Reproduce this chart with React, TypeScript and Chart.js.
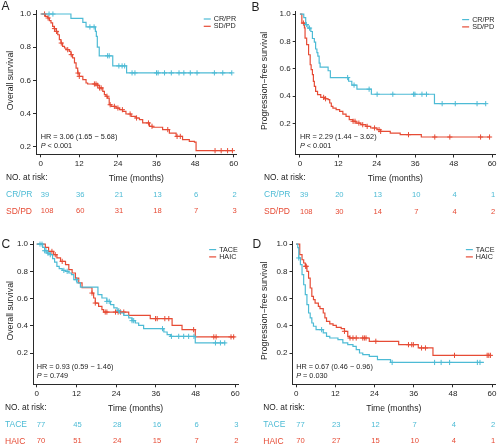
import React, { useEffect, useRef } from "react";
import { Chart, registerables } from "chart.js";

Chart.register(...registerables);

const BLUE = "#4DBBD5";
const RED = "#E64B35";
const TEXT = "#1e1e1e";
const AXIS = "#2a2a2a";
const FONT = "Liberation Sans, Arial, Helvetica, sans-serif";

const xTicks = [0, 12, 24, 36, 48, 60];
const yTicks = [0.2, 0.4, 0.6, 0.8, 1.0];

// ---------- Panel A : OS by response ----------
const aCrprTimes = [0, 9.4, 13.1, 14.1, 17.0, 17.3, 17.6, 18.2, 22.4, 26.7];
const aCrprSurv = [1, 0.974, 0.95, 0.922, 0.895, 0.865, 0.8, 0.748, 0.687, 0.645];
const aCrprEnd = 59.4;
const aCrprCensor = [2.6, 3.8, 15.3, 16.6, 20.8, 21.3, 24.3, 25.3, 26.1, 28.4, 29.3, 36.0, 36.5, 38.5, 40.6, 43.0, 44.5, 46.5, 48.6, 54.0, 56.6, 59.4];

const aSdpdTimes = [0, 1.45, 2.2, 2.7, 3.2, 3.7, 4.2, 4.8, 5.3, 5.8, 6.3, 6.8, 7.4, 7.9, 8.9, 9.4, 9.9, 10.5, 11.0, 11.5, 12.0, 13.1, 14.1, 14.6, 17.7, 18.2, 19.3, 19.8, 20.3, 20.8, 21.3, 21.9, 23.4, 24.5, 25.5, 26.5, 28.1, 29.6, 30.7, 31.7, 33.8, 34.8, 37.9, 40.0, 42.1, 44.1, 46.2, 47.8, 48.3];
const aSdpdSurv = [1, 0.986, 0.976, 0.96, 0.946, 0.926, 0.912, 0.895, 0.875, 0.845, 0.825, 0.805, 0.795, 0.785, 0.775, 0.755, 0.735, 0.705, 0.674, 0.644, 0.624, 0.604, 0.584, 0.578, 0.57, 0.554, 0.534, 0.514, 0.504, 0.493, 0.453, 0.443, 0.433, 0.423, 0.413, 0.397, 0.383, 0.373, 0.363, 0.343, 0.323, 0.317, 0.303, 0.282, 0.262, 0.242, 0.232, 0.228, 0.176];
const aSdpdEnd = 59.6;
const aSdpdCensor = [1.2, 2.3, 4.3, 4.9, 6.4, 8.4, 9.5, 11.6, 12.0, 16.7, 17.2, 17.7, 18.3, 18.8, 20.6, 21.6, 22.9, 24.0, 25.4, 27.8, 29.8, 33.5, 34.6, 39.5, 42.4, 43.4, 54.2, 56.1, 58.1, 59.6];

const aRiskCrpr = [39, 36, 21, 13, 6, 2];
const aRiskSdpd = [108, 60, 31, 18, 7, 3];

// ---------- Panel B : PFS by response ----------
const bCrprTimes = [0, 1.2, 1.8, 2.5, 3.4, 3.9, 4.5, 4.9, 5.3, 5.6, 6.0, 6.3, 8.8, 9.5, 15.2, 16.2, 17.8, 22.3, 42.0];
const bCrprSurv = [1, 0.974, 0.923, 0.897, 0.872, 0.821, 0.795, 0.744, 0.718, 0.692, 0.641, 0.612, 0.585, 0.535, 0.508, 0.48, 0.45, 0.413, 0.344];
const bCrprEnd = 58.0;
const bCrprCensor = [2.0, 3.0, 14.9, 16.9, 21.6, 24.1, 29.0, 35.5, 35.9, 38.1, 39.5, 44.4, 48.5, 55.3, 58.0];

const bSdpdTimes = [0, 0.6, 1.4, 1.6, 2.1, 2.7, 3.2, 3.5, 3.9, 4.2, 4.5, 4.9, 5.5, 6.5, 7.8, 8.8, 9.3, 9.8, 10.3, 11.3, 12.4, 13.4, 14.4, 15.4, 16.5, 17.5, 19.0, 20.6, 22.1, 24.1, 25.2, 28.2, 31.3, 37.9];
const bSdpdSurv = [1, 0.934, 0.898, 0.824, 0.776, 0.702, 0.629, 0.593, 0.556, 0.507, 0.471, 0.434, 0.41, 0.39, 0.38, 0.373, 0.349, 0.324, 0.312, 0.3, 0.288, 0.268, 0.251, 0.227, 0.215, 0.202, 0.19, 0.178, 0.166, 0.154, 0.141, 0.129, 0.117, 0.1];
const bSdpdEnd = 59.4;
const bSdpdCensor = [1.1, 7.4, 8.0, 16.6, 17.2, 18.4, 19.6, 21.0, 23.3, 24.7, 25.2, 33.9, 42.1, 46.8, 56.4, 59.2];

const bRiskCrpr = [39, 20, 13, 10, 4, 1];
const bRiskSdpd = [108, 30, 14, 7, 4, 2];

// ---------- Panel C : OS by treatment ----------
const cTaceTimes = [0, 1.8, 2.4, 3.1, 4.1, 4.8, 5.4, 6.1, 6.8, 7.7, 8.7, 9.7, 10.5, 11.2, 12.2, 13.2, 18.5, 19.7, 21.2, 22.3, 23.3, 24.3, 25.0, 26.3, 27.8, 28.8, 29.8, 30.8, 32.3, 38.4, 39.4, 40.4, 47.9];
const cTaceSurv = [1, 0.976, 0.951, 0.934, 0.922, 0.893, 0.868, 0.837, 0.82, 0.807, 0.8, 0.788, 0.776, 0.739, 0.715, 0.685, 0.629, 0.605, 0.58, 0.556, 0.532, 0.512, 0.495, 0.478, 0.459, 0.439, 0.422, 0.405, 0.38, 0.356, 0.337, 0.324, 0.276];
const cTaceEnd = 57.0;
const cTaceCensor = [1.0, 1.6, 2.4, 2.8, 3.4, 4.1, 8.2, 9.2, 12.0, 21.2, 21.9, 24.8, 28.8, 29.3, 38.0, 40.7, 42.9, 44.4, 45.9, 47.5, 54.0, 55.5, 56.8];

const cHaicTimes = [0, 2.6, 3.6, 5.1, 6.1, 7.2, 8.7, 9.7, 10.7, 11.7, 12.7, 13.7, 16.7, 17.2, 17.7, 18.7, 19.7, 20.2, 27.8, 34.3, 40.9, 43.9, 47.9];
const cHaicSurv = [1, 0.976, 0.946, 0.922, 0.898, 0.873, 0.849, 0.812, 0.788, 0.751, 0.715, 0.68, 0.641, 0.605, 0.568, 0.544, 0.52, 0.502, 0.478, 0.454, 0.405, 0.373, 0.32];
const cHaicEnd = 59.8;
const cHaicCensor = [4.6, 5.6, 7.7, 16.7, 17.7, 20.7, 21.2, 23.8, 24.6, 25.3, 26.3, 35.9, 36.4, 38.7, 39.9, 47.4, 53.5, 54.2, 58.7, 59.5];

const cRiskTace = [77, 45, 28, 16, 6, 3];
const cRiskHaic = [70, 51, 24, 15, 7, 2];

// ---------- Panel D : PFS by treatment ----------
const dTaceTimes = [0, 0.5, 0.8, 1.3, 1.8, 2.3, 2.8, 3.3, 3.8, 4.3, 4.8, 5.3, 6.1, 8.3, 9.3, 10.3, 12.8, 14.3, 15.8, 17.4, 18.4, 19.4, 20.4, 22.4, 24.9, 28.9];
const dTaceSurv = [1, 0.974, 0.898, 0.849, 0.776, 0.702, 0.629, 0.556, 0.495, 0.459, 0.422, 0.398, 0.373, 0.349, 0.324, 0.312, 0.3, 0.276, 0.263, 0.251, 0.227, 0.202, 0.19, 0.178, 0.154, 0.133];
const dTaceEnd = 57.5;
const dTaceCensor = [0.8, 7.8, 29.4, 42.4, 44.4, 47.0, 55.5, 56.3];

const dHaicTimes = [0, 1.1, 1.8, 2.3, 2.8, 3.3, 3.8, 4.3, 4.8, 5.3, 5.8, 6.8, 7.3, 8.3, 8.8, 9.3, 10.3, 11.3, 12.3, 13.8, 14.8, 15.8, 16.3, 22.4, 31.4, 37.4, 41.9];
const dHaicSurv = [1, 0.922, 0.885, 0.861, 0.837, 0.8, 0.751, 0.678, 0.617, 0.593, 0.568, 0.544, 0.527, 0.495, 0.459, 0.434, 0.415, 0.405, 0.39, 0.38, 0.361, 0.324, 0.312, 0.288, 0.263, 0.239, 0.185];
const dHaicEnd = 59.7;
const dHaicCensor = [2.9, 3.1, 14.8, 16.5, 17.4, 18.4, 20.4, 20.9, 21.4, 24.4, 34.4, 35.4, 35.9, 38.4, 39.6, 48.5, 58.5, 59.0, 59.5];

const dRiskTace = [77, 23, 12, 7, 4, 2];
const dRiskHaic = [70, 27, 15, 10, 4, 1];

// ---------- helpers ----------
type Series = {
  label: string;
  color: string;
  times: number[];
  surv: number[];
  end: number;
  censor: number[];
  risk: number[];
};

type PanelCfg = {
  letter: string;
  letterX: number;
  letterY: number;
  yTitle: string;
  titleX: number;
  hr: string;
  pText: string;
  series: Series[];
  w: number;
  h: number;
  area: { left: number; top: number; right: number; bottom: number };
  xMin: number;
  xMax: number;
  yMin: number;
  yMax: number;
  riskLabelX: number;
};

function stepValue(times: number[], surv: number[], t: number): number {
  let v = surv[0];
  for (let i = 0; i < times.length; i++) if (times[i] <= t) v = surv[i];
  return v;
}

const panels: PanelCfg[] = [
  {
    letter: "A", letterX: 1.5, letterY: 10.3, yTitle: "Overall survival", titleX: 10.5,
    hr: "HR = 3.06 (1.65 \u2212 5.68)", pText: " < 0.001",
    series: [
      { label: "CR/PR", color: BLUE, times: aCrprTimes, surv: aCrprSurv, end: aCrprEnd, censor: aCrprCensor, risk: aRiskCrpr },
      { label: "SD/PD", color: RED, times: aSdpdTimes, surv: aSdpdSurv, end: aSdpdEnd, censor: aSdpdCensor, risk: aRiskSdpd },
    ],
    w: 250, h: 220,
    area: { left: 36, top: 10.7, right: 236.6, bottom: 154.3 },
    xMin: -1.46, xMax: 60.9, yMin: 0.154, yMax: 1.02, riskLabelX: 6,
  },
  {
    letter: "B", letterX: 1.5, letterY: 10.5, yTitle: "Progression\u2212free survival", titleX: 15,
    hr: "HR = 2.29 (1.44 \u2212 3.62)", pText: " < 0.001",
    series: [
      { label: "CR/PR", color: BLUE, times: bCrprTimes, surv: bCrprSurv, end: bCrprEnd, censor: bCrprCensor, risk: bRiskCrpr },
      { label: "SD/PD", color: RED, times: bSdpdTimes, surv: bSdpdSurv, end: bSdpdEnd, censor: bSdpdCensor, risk: bRiskSdpd },
    ],
    w: 250, h: 220,
    area: { left: 45.7, top: 11.3, right: 248.3, bottom: 154.5 },
    xMin: -1.32, xMax: 60.9, yMin: -0.028, yMax: 1.02, riskLabelX: 14,
  },
  {
    letter: "C", letterX: 1.5, letterY: 28.4, yTitle: "Overall survival", titleX: 10.5,
    hr: "HR = 0.93 (0.59 \u2212 1.46)", pText: " = 0.749",
    series: [
      { label: "TACE", color: BLUE, times: cTaceTimes, surv: cTaceSurv, end: cTaceEnd, censor: cTaceCensor, risk: cRiskTace },
      { label: "HAIC", color: RED, times: cHaicTimes, surv: cHaicSurv, end: cHaicEnd, censor: cHaicCensor, risk: cRiskHaic },
    ],
    w: 250, h: 227,
    area: { left: 33, top: 21.3, right: 238.3, bottom: 164.3 },
    xMin: -1.12, xMax: 60.9, yMin: -0.027, yMax: 1.02, riskLabelX: 5,
  },
  {
    letter: "D", letterX: 2.5, letterY: 28.2, yTitle: "Progression\u2212free survival", titleX: 15,
    hr: "HR = 0.67 (0.46 \u2212 0.96)", pText: " = 0.030",
    series: [
      { label: "TACE", color: BLUE, times: dTaceTimes, surv: dTaceSurv, end: dTaceEnd, censor: dTaceCensor, risk: dRiskTace },
      { label: "HAIC", color: RED, times: dHaicTimes, surv: dHaicSurv, end: dHaicEnd, censor: dHaicCensor, risk: dRiskHaic },
    ],
    w: 250, h: 227,
    area: { left: 42.5, top: 21.3, right: 247.2, bottom: 164.3 },
    xMin: -1.12, xMax: 60.9, yMin: -0.027, yMax: 1.02, riskLabelX: 13.3,
  },
];

function makeAnnotPlugin(cfg: PanelCfg) {
  return {
    id: "annot" + cfg.letter,
    afterDraw(chart: any) {
      const ctx: CanvasRenderingContext2D = chart.ctx;
      const ca = chart.chartArea;
      const xs = chart.scales.x;
      ctx.save();
      ctx.fillStyle = TEXT;

      // panel letter
      ctx.font = `12px ${FONT}`;
      ctx.textAlign = "left";
      ctx.textBaseline = "alphabetic";
      ctx.fillText(cfg.letter, cfg.letterX, cfg.letterY);

      // y-axis title
      ctx.save();
      ctx.translate(cfg.titleX, (ca.top + ca.bottom) / 2 - 2);
      ctx.rotate(-Math.PI / 2);
      ctx.font = `8.7px ${FONT}`;
      ctx.textAlign = "center";
      ctx.textBaseline = "middle";
      ctx.fillText(cfg.yTitle, 0, 0);
      ctx.restore();

      // x-axis title
      ctx.font = `8.6px ${FONT}`;
      ctx.textAlign = "center";
      ctx.textBaseline = "middle";
      ctx.fillText("Time (months)", (ca.left + ca.right) / 2, ca.bottom + 24.2);

      // HR and P
      const x0 = xs.getPixelForValue(0);
      ctx.font = `7.3px ${FONT}`;
      ctx.textAlign = "left";
      ctx.fillText(cfg.hr, x0, ca.bottom - 17.2);
      ctx.font = `italic 7.3px ${FONT}`;
      ctx.fillText("P", x0, ca.bottom - 8.4);
      const pw = ctx.measureText("P").width;
      ctx.font = `7.3px ${FONT}`;
      ctx.fillText(cfg.pText, x0 + pw, ca.bottom - 8.4);

      // legend
      ctx.font = `7.2px ${FONT}`;
      const maxW = Math.max(...cfg.series.map((s) => ctx.measureText(s.label).width));
      const textLeft = ca.right - maxW - 0.5;
      cfg.series.forEach((s, i) => {
        const yy = ca.top + 8.3 + i * 7.3;
        ctx.strokeStyle = s.color;
        ctx.lineWidth = 1.2;
        ctx.beginPath();
        ctx.moveTo(textLeft - 10, yy);
        ctx.lineTo(textLeft - 3, yy);
        ctx.stroke();
        ctx.fillStyle = TEXT;
        ctx.textAlign = "left";
        ctx.textBaseline = "middle";
        ctx.fillText(s.label, textLeft, yy);
      });

      // risk table
      ctx.fillStyle = TEXT;
      ctx.font = `8.3px ${FONT}`;
      ctx.textAlign = "left";
      ctx.textBaseline = "middle";
      ctx.fillText("NO. at risk:", cfg.riskLabelX, ca.bottom + 23.4);
      cfg.series.forEach((s, i) => {
        const yy = ca.bottom + 40.4 + i * 16.7;
        ctx.fillStyle = s.color;
        ctx.font = `8.5px ${FONT}`;
        ctx.textAlign = "left";
        ctx.fillText(s.label, cfg.riskLabelX, yy);
        ctx.font = `7.6px ${FONT}`;
        s.risk.forEach((n, j) => {
          const px = xs.getPixelForValue(xTicks[j]);
          if (j === 0) {
            ctx.textAlign = "left";
            ctx.fillText(String(n), px, yy);
          } else {
            ctx.textAlign = "center";
            ctx.fillText(String(n), px + 1, yy);
          }
        });
      });
      ctx.restore();
    },
  };
}

function Panel({ cfg, left, top }: { cfg: PanelCfg; left: number; top: number }) {
  const ref = useRef<HTMLCanvasElement | null>(null);
  useEffect(() => {
    const canvas = ref.current;
    if (!canvas) return;
    const datasets: any[] = [];
    cfg.series.forEach((s) => {
      const pts = s.times.map((t, i) => ({ x: t, y: s.surv[i] }));
      pts.push({ x: s.end, y: s.surv[s.surv.length - 1] });
      datasets.push({
        type: "scatter",
        label: s.label,
        data: pts,
        showLine: true,
        stepped: true,
        borderColor: s.color,
        backgroundColor: s.color,
        borderWidth: 1.2,
        pointRadius: 0,
        fill: false,
      });
      datasets.push({
        type: "scatter",
        label: s.label + " censored",
        data: s.censor.map((t) => ({ x: t, y: stepValue(s.times, s.surv, t) })),
        showLine: false,
        pointStyle: "cross",
        pointRadius: 2.6,
        pointBorderWidth: 1,
        borderWidth: 1,
        borderColor: s.color,
        backgroundColor: s.color,
      });
    });

    const tickFont = { family: FONT, size: 8 };
    const chart = new Chart(canvas, {
      type: "scatter",
      data: { datasets },
      options: {
        responsive: false,
        animation: false,
        devicePixelRatio: 1,
        layout: {
          padding: {
            left: 0,
            top: cfg.area.top,
            right: cfg.w - cfg.area.right,
            bottom: 0,
          },
        },
        plugins: { legend: { display: false }, tooltip: { enabled: false }, title: { display: false } },
        scales: {
          x: {
            type: "linear",
            min: cfg.xMin,
            max: cfg.xMax,
            afterBuildTicks: (s: any) => {
              s.ticks = xTicks.map((v) => ({ value: v }));
            },
            afterFit: (s: any) => {
              s.height = cfg.h - cfg.area.bottom;
            },
            ticks: {
              autoSkip: false,
              maxRotation: 0,
              padding: 1.5,
              color: TEXT,
              font: tickFont,
              callback: (v: any) => String(v),
            },
            grid: { display: true, drawOnChartArea: false, drawTicks: true, tickLength: 3, color: AXIS, lineWidth: 1 },
            border: { display: true, color: AXIS, width: 1 },
          },
          y: {
            type: "linear",
            min: cfg.yMin,
            max: cfg.yMax,
            afterBuildTicks: (s: any) => {
              s.ticks = yTicks.map((v) => ({ value: v }));
            },
            afterFit: (s: any) => {
              s.width = cfg.area.left;
            },
            ticks: {
              autoSkip: false,
              padding: 2,
              color: TEXT,
              font: tickFont,
              callback: (v: any) => Number(v).toFixed(1),
            },
            grid: { display: true, drawOnChartArea: false, drawTicks: true, tickLength: 3, color: AXIS, lineWidth: 1 },
            border: { display: true, color: AXIS, width: 1 },
          },
        },
      } as any,
      plugins: [makeAnnotPlugin(cfg)],
    });
    return () => chart.destroy();
  }, [cfg]);
  return (
    <canvas
      ref={ref}
      width={cfg.w}
      height={cfg.h}
      style={{ position: "absolute", left, top, width: cfg.w, height: cfg.h }}
    />
  );
}

export default function App() {
  return (
    <div style={{ position: "absolute", left: 0, top: 0, width: 500, height: 447, background: "#ffffff", overflow: "hidden" }}>
      <Panel cfg={panels[0]} left={0} top={0} />
      <Panel cfg={panels[1]} left={250} top={0} />
      <Panel cfg={panels[2]} left={0} top={220} />
      <Panel cfg={panels[3]} left={250} top={220} />
    </div>
  );
}
